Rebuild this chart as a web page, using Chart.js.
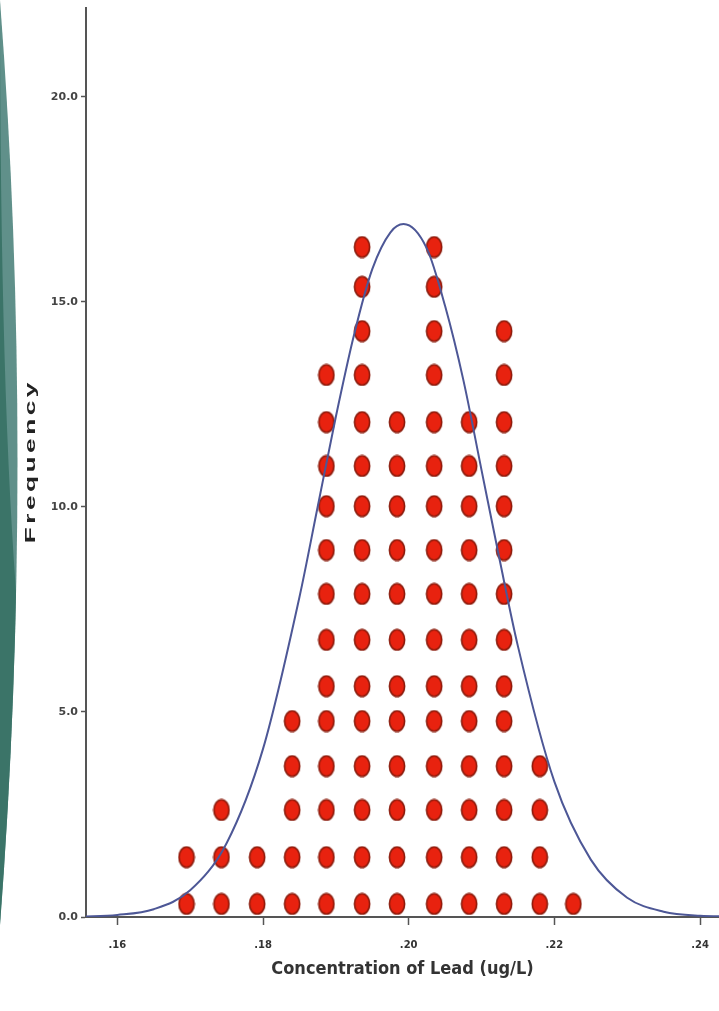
<!DOCTYPE html>
<html>
<head>
<meta charset="utf-8">
<title>Concentration of Lead</title>
<script src="https://cdn.jsdelivr.net/npm/chart.js@4.4.1/dist/chart.umd.min.js"></script>
<style>
  html, body { margin: 0; padding: 0; background: #fff; }
  canvas { display: block; }
</style>
</head>
<body>
<canvas id="leadChart" width="719" height="1011"></canvas>
<script>
// dot columns (bin centres, ug/L) and how many dots sit in each
const binCenters = [0.1695, 0.1743, 0.1792, 0.1840, 0.1887, 0.1936, 0.1984, 0.2035, 0.2083, 0.2131, 0.2180, 0.2226];
const binCounts = [2, 3, 2, 5, 13, 16, 12, 16, 12, 14, 4, 1];
// heights the stacked dots are drawn at
const dotLevels = [0.32, 1.46, 2.61, 3.68, 4.78, 5.63, 6.76, 7.88, 8.95, 10.02, 11.0, 12.07, 13.22, 14.29, 15.37, 16.34];

// normal curve
const curveX = [0.155, 0.160, 0.165, 0.170, 0.175, 0.180, 0.185, 0.1875, 0.190, 0.1925, 0.195, 0.1975, 0.1993,
                0.2025, 0.205, 0.2075, 0.210, 0.2125, 0.215, 0.220, 0.225, 0.230, 0.235, 0.240, 0.245];
const curveY = [0.01, 0.05, 0.19, 0.65, 1.8, 4.1, 7.8, 10.0, 12.2, 14.2, 15.8, 16.7, 16.9,
                16.3, 14.9, 13.1, 10.9, 8.7, 6.6, 3.3, 1.4, 0.47, 0.13, 0.03, 0.01];

const xTicks = [0.16, 0.18, 0.20, 0.22, 0.24];
const xTickLabels = ['.16', '.18', '.20', '.22', '.24'];
const yTicks = [0, 5, 10, 15, 20];
const yTickLabels = ['0.0', '5.0', '10.0', '15.0', '20.0'];

const xTitle = 'Concentration of Lead (ug/L)';
const yTitle = 'Frequency';

const dots = [];
binCenters.forEach((x, i) => {
  for (let k = 0; k < binCounts[i]; k++) dots.push({ x, y: dotLevels[k] });
});
const curve = curveX.map((x, i) => ({ x, y: curveY[i] }));

// oval red marker
function makeDot() {
  const c = document.createElement('canvas');
  c.width = 18; c.height = 23;
  const g = c.getContext('2d');
  g.beginPath();
  g.ellipse(9, 11.5, 7.6, 10.3, 0, 0, Math.PI * 2);
  g.fillStyle = '#e8220f';
  g.fill();
  g.lineWidth = 1.6;
  g.strokeStyle = '#8a1a0b';
  g.stroke();
  return c;
}

// teal slide decoration on the left edge
const sideBand = {
  id: 'sideBand',
  beforeDraw(chart) {
    const ctx = chart.ctx;
    ctx.save();
    ctx.beginPath();
    ctx.moveTo(0, 0);
    ctx.quadraticCurveTo(35, 460, 0, 925);
    ctx.closePath();
    ctx.fillStyle = '#60908a';
    ctx.fill();
    ctx.clip();
    ctx.beginPath();
    ctx.moveTo(0, 0);
    ctx.quadraticCurveTo(0, 420, 20, 640);
    ctx.lineTo(40, 640);
    ctx.lineTo(40, 1011);
    ctx.lineTo(0, 1011);
    ctx.closePath();
    ctx.fillStyle = '#3b7468';
    ctx.fill();
    ctx.restore();
  }
};

// stretched vertical axis title
const yTitlePlugin = {
  id: 'yTitle',
  afterDraw(chart) {
    const ctx = chart.ctx;
    ctx.save();
    ctx.translate(31, 463);
    ctx.rotate(-Math.PI / 2);
    ctx.scale(1.75, 1);
    ctx.font = "bold 15px 'Liberation Sans', Arial, sans-serif";
    ctx.letterSpacing = '2px';
    ctx.fillStyle = '#222';
    ctx.textAlign = 'center';
    ctx.textBaseline = 'middle';
    ctx.fillText(yTitle, 1, 0);
    ctx.restore();
  }
};

const tickFont = { family: "'DejaVu Sans', sans-serif", weight: 'bold' };

new Chart(document.getElementById('leadChart'), {
  type: 'scatter',
  data: {
    datasets: [
      {
        label: 'Normal',
        data: curve,
        showLine: true,
        borderColor: '#4d5796',
        borderWidth: 2,
        pointRadius: 0,
        cubicInterpolationMode: 'monotone',
        order: 0
      },
      {
        label: 'Lead',
        data: dots,
        pointStyle: makeDot(),
        pointRadius: 8,
        order: 1
      }
    ]
  },
  options: {
    responsive: false,
    animation: false,
    layout: { autoPadding: false, padding: { top: 8, right: 0, bottom: 0, left: 0 } },
    plugins: { legend: { display: false }, tooltip: { enabled: false } },
    scales: {
      x: {
        type: 'linear',
        min: 0.1557,
        max: 0.2426,
        afterBuildTicks: s => { s.ticks = xTicks.map(v => ({ value: v })); },
        afterFit: s => { s.height = 94; s.paddingLeft = 0; s.paddingRight = 0; },
        ticks: {
          autoSkip: false,
          maxRotation: 0,
          padding: 14,
          color: '#333',
          font: { ...tickFont, size: 10 },
          callback: (v, i) => xTickLabels[i]
        },
        grid: { drawOnChartArea: false, tickLength: 8, tickColor: '#555', tickWidth: 1.5 },
        border: { color: '#555', width: 2 },
        title: {
          display: true,
          text: xTitle,
          color: '#333',
          font: { family: "'Liberation Sans Narrow', 'DejaVu Sans Condensed', sans-serif", size: 18, weight: 'bold' },
          padding: { top: 0, bottom: 31 }
        }
      },
      y: {
        min: 0,
        max: 22.17,
        afterBuildTicks: s => { s.ticks = yTicks.map(v => ({ value: v })); },
        afterFit: s => { s.width = 86; s.paddingTop = 0; s.paddingBottom = 0; },
        ticks: {
          padding: 3,
          color: '#444',
          font: { ...tickFont, size: 11 },
          callback: (v, i) => yTickLabels[i]
        },
        grid: { drawOnChartArea: false, tickLength: 5, tickColor: '#555', tickWidth: 1.5 },
        border: { color: '#555', width: 2 },
        title: { display: false }
      }
    }
  },
  plugins: [sideBand, yTitlePlugin]
});
</script>
</body>
</html>
